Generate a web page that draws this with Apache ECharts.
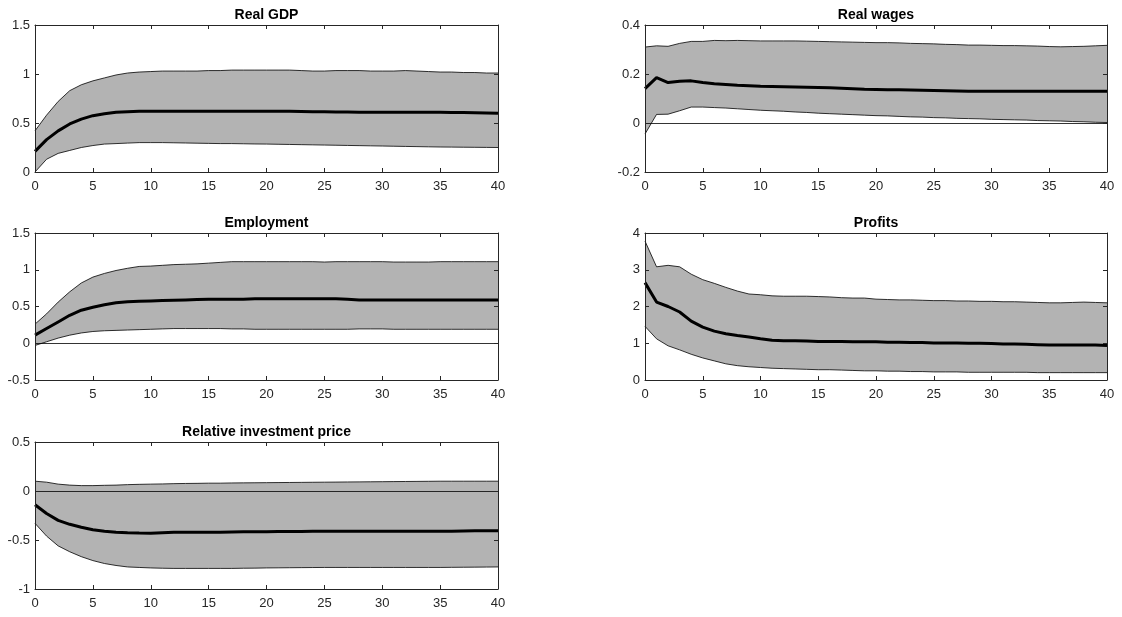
<!DOCTYPE html>
<html>
<head>
<meta charset="utf-8">
<script src="https://cdn.jsdelivr.net/npm/echarts@6/dist/echarts.min.js"></script>
<style>
html,body{margin:0;padding:0;background:#fff;}
#chart{width:1122px;height:617px;}
</style>
</head>
<body>
<div id="chart"></div>
<script>
// ---------- data ----------
const horizon = [0,1,2,3,4,5,6,7,8,9,10,11,12,13,14,15,16,17,18,19,20,21,22,23,24,25,26,27,28,29,30,31,32,33,34,35,36,37,38,39,40];
const xTicks = [0,5,10,15,20,25,30,35,40];
const panelTitles = ["Real GDP","Real wages","Employment","Profits","Relative investment price"];

const gdpUpper = [0.42,0.58,0.72,0.83,0.89,0.93,0.96,0.99,1.01,1.02,1.025,1.03,1.03,1.03,1.03,1.035,1.035,1.04,1.04,1.04,1.04,1.04,1.04,1.035,1.03,1.03,1.035,1.035,1.035,1.03,1.03,1.03,1.035,1.03,1.025,1.02,1.02,1.015,1.015,1.01,1.01];
const gdpMid   = [0.21,0.33,0.42,0.49,0.54,0.575,0.595,0.61,0.615,0.62,0.62,0.62,0.62,0.62,0.62,0.62,0.62,0.62,0.62,0.62,0.62,0.62,0.62,0.618,0.616,0.615,0.613,0.612,0.61,0.61,0.61,0.61,0.61,0.61,0.61,0.61,0.608,0.606,0.604,0.602,0.60];
const gdpLower = [0.00,0.13,0.19,0.22,0.25,0.27,0.285,0.29,0.295,0.30,0.30,0.30,0.298,0.296,0.294,0.292,0.29,0.29,0.288,0.286,0.285,0.283,0.281,0.279,0.277,0.275,0.273,0.271,0.269,0.267,0.265,0.263,0.261,0.259,0.257,0.255,0.254,0.253,0.252,0.251,0.25];

const wageUpper = [0.31,0.315,0.313,0.325,0.333,0.333,0.337,0.336,0.337,0.336,0.335,0.335,0.335,0.335,0.334,0.333,0.332,0.331,0.330,0.329,0.328,0.328,0.327,0.325,0.324,0.323,0.321,0.320,0.318,0.318,0.317,0.316,0.316,0.315,0.314,0.312,0.311,0.312,0.313,0.315,0.317];
const wageMid   = [0.14,0.185,0.165,0.17,0.172,0.165,0.16,0.157,0.154,0.152,0.15,0.149,0.148,0.147,0.146,0.145,0.144,0.142,0.140,0.138,0.137,0.136,0.136,0.135,0.134,0.133,0.132,0.131,0.130,0.130,0.130,0.130,0.130,0.130,0.130,0.130,0.130,0.130,0.130,0.130,0.130];
const wageLower = [-0.045,0.035,0.036,0.05,0.065,0.065,0.063,0.061,0.058,0.055,0.052,0.050,0.048,0.045,0.043,0.040,0.038,0.036,0.034,0.032,0.030,0.029,0.027,0.025,0.024,0.022,0.021,0.019,0.018,0.017,0.015,0.014,0.013,0.012,0.010,0.009,0.008,0.006,0.005,0.003,0.002];

const empUpper = [0.26,0.40,0.56,0.70,0.82,0.90,0.95,0.99,1.02,1.045,1.05,1.06,1.07,1.075,1.08,1.09,1.10,1.11,1.11,1.11,1.11,1.11,1.11,1.11,1.11,1.105,1.11,1.11,1.11,1.11,1.11,1.105,1.105,1.105,1.105,1.11,1.11,1.11,1.11,1.11,1.11];
const empMid   = [0.11,0.20,0.29,0.38,0.45,0.49,0.525,0.55,0.565,0.57,0.575,0.58,0.585,0.59,0.595,0.60,0.60,0.60,0.60,0.605,0.605,0.605,0.605,0.605,0.605,0.605,0.605,0.60,0.59,0.59,0.59,0.59,0.59,0.59,0.59,0.59,0.59,0.59,0.59,0.59,0.59];
const empLower = [-0.03,0.02,0.07,0.11,0.14,0.16,0.17,0.175,0.18,0.185,0.19,0.195,0.20,0.20,0.20,0.20,0.20,0.195,0.195,0.19,0.19,0.19,0.19,0.19,0.19,0.19,0.19,0.19,0.195,0.195,0.195,0.19,0.19,0.19,0.19,0.19,0.19,0.19,0.19,0.19,0.19];

const profUpper = [3.78,3.08,3.12,3.08,2.88,2.73,2.63,2.52,2.42,2.34,2.32,2.29,2.28,2.28,2.28,2.27,2.26,2.24,2.23,2.23,2.20,2.19,2.18,2.18,2.17,2.16,2.16,2.15,2.15,2.14,2.14,2.13,2.13,2.12,2.11,2.10,2.10,2.11,2.12,2.11,2.10];
const profMid   = [2.65,2.12,2.00,1.85,1.60,1.44,1.33,1.26,1.21,1.17,1.12,1.08,1.07,1.07,1.06,1.05,1.05,1.05,1.04,1.04,1.04,1.03,1.03,1.02,1.02,1.01,1.01,1.01,1.00,1.00,0.99,0.98,0.98,0.97,0.96,0.95,0.95,0.95,0.95,0.95,0.94];
const profLower = [1.46,1.12,0.93,0.82,0.70,0.60,0.52,0.44,0.39,0.36,0.34,0.32,0.31,0.30,0.29,0.28,0.28,0.27,0.26,0.25,0.25,0.24,0.24,0.23,0.23,0.22,0.22,0.22,0.21,0.21,0.21,0.21,0.21,0.21,0.20,0.20,0.20,0.20,0.20,0.20,0.20];

const ripUpper = [0.10,0.09,0.07,0.06,0.055,0.055,0.058,0.06,0.065,0.068,0.07,0.072,0.075,0.077,0.078,0.08,0.08,0.082,0.083,0.084,0.085,0.086,0.087,0.088,0.089,0.09,0.091,0.092,0.093,0.094,0.095,0.096,0.097,0.098,0.099,0.10,0.10,0.10,0.10,0.10,0.10];
const ripMid   = [-0.14,-0.23,-0.30,-0.34,-0.37,-0.395,-0.41,-0.42,-0.425,-0.428,-0.43,-0.425,-0.42,-0.42,-0.42,-0.42,-0.42,-0.418,-0.417,-0.416,-0.415,-0.414,-0.413,-0.412,-0.411,-0.41,-0.41,-0.41,-0.41,-0.41,-0.41,-0.41,-0.41,-0.41,-0.41,-0.41,-0.41,-0.408,-0.406,-0.405,-0.405];
const ripLower = [-0.33,-0.46,-0.56,-0.62,-0.67,-0.71,-0.74,-0.76,-0.775,-0.78,-0.785,-0.788,-0.79,-0.79,-0.79,-0.79,-0.79,-0.79,-0.788,-0.787,-0.785,-0.784,-0.783,-0.782,-0.781,-0.78,-0.78,-0.78,-0.78,-0.78,-0.78,-0.78,-0.78,-0.78,-0.78,-0.78,-0.779,-0.778,-0.777,-0.776,-0.775];

// y-axis ranges: [min, max, interval]
const yMins = [0, -0.2, -0.5, 0, -1];
const yMaxs = [1.5, 0.4, 1.5, 4, 0.5];
const yIntervals = [0.5, 0.2, 0.5, 1, 0.5];

const uppers = [gdpUpper, wageUpper, empUpper, profUpper, ripUpper];
const mids = [gdpMid, wageMid, empMid, profMid, ripMid];
const lowers = [gdpLower, wageLower, empLower, profLower, ripLower];

// ---------- layout ----------
const colLeft = [35, 645];
const colWidth = [463, 462];
const rowTop = [25, 233, 442];
const plotH = 147;
const FONT = '"Liberation Sans", Arial, Helvetica, sans-serif';
const AX = '#262626';

const chart = echarts.init(document.getElementById('chart'), null, {renderer: 'canvas'});

const grids = [], xAxes = [], yAxes = [], series = [], graphics = [];

panelTitles.forEach((title, i) => {
  const row = Math.floor(i / 2), col = i % 2;
  grids.push({left: colLeft[col], top: rowTop[row], width: colWidth[col], height: plotH, containLabel: false});
  const g = i;
  const commonX = {
    type: 'value', gridIndex: g, min: 0, max: 40, interval: 5, z: 10,
    axisLine: {show: true, onZero: false, lineStyle: {color: AX, width: 1}},
    axisTick: {show: true, inside: true, length: 4, lineStyle: {color: AX, width: 1}},
    splitLine: {show: false}
  };
  xAxes.push(Object.assign({}, commonX, {
    position: 'bottom',
    axisLabel: {show: true, margin: 8, color: AX, fontSize: 13, fontFamily: FONT,
      formatter: v => (xTicks.indexOf(v) >= 0 ? String(v) : '')}
  }));
  xAxes.push(Object.assign({}, commonX, {position: 'top', axisLabel: {show: false}}));
  const commonY = {
    type: 'value', gridIndex: g, min: yMins[i], max: yMaxs[i], interval: yIntervals[i], z: 10,
    axisLine: {show: true, onZero: false, lineStyle: {color: AX, width: 1}},
    axisTick: {show: true, inside: true, length: 4, lineStyle: {color: AX, width: 1}},
    splitLine: {show: false}
  };
  yAxes.push(Object.assign({}, commonY, {
    position: 'left',
    axisLabel: {show: true, margin: 5, color: AX, fontSize: 13, fontFamily: FONT,
      formatter: v => String(parseFloat(v.toFixed(2)))}
  }));
  yAxes.push(Object.assign({}, commonY, {position: 'right', axisLabel: {show: false}}));

  const xi = 2 * i, yi = 2 * i;
  const up = uppers[i], lo = lowers[i], md = mids[i];

  // shaded band
  series.push({
    type: 'custom', xAxisIndex: xi, yAxisIndex: yi, z: 1, silent: true,
    data: horizon.map((h, k) => [h, lo[k], up[k]]),
    encode: {x: 0, y: [1, 2]},
    renderItem: (params, api) => {
      if (params.dataIndex !== 0) return null;
      const pts = [];
      for (let k = 0; k < horizon.length; k++) pts.push(api.coord([horizon[k], up[k]]));
      for (let k = horizon.length - 1; k >= 0; k--) pts.push(api.coord([horizon[k], lo[k]]));
      return {type: 'polygon', shape: {points: pts}, style: {fill: '#b3b3b3', stroke: null}};
    }
  });
  // band edges
  [up, lo].forEach(arr => {
    series.push({
      type: 'line', xAxisIndex: xi, yAxisIndex: yi, z: 3, silent: true,
      data: horizon.map((h, k) => [h, arr[k]]),
      symbol: 'none', lineStyle: {color: '#000', width: 0.8}
    });
  });
  // zero line
  series.push({
    type: 'line', xAxisIndex: xi, yAxisIndex: yi, z: 4, silent: true,
    data: [], symbol: 'none',
    markLine: {silent: true, symbol: 'none', label: {show: false},
      lineStyle: {color: '#000', width: 0.8, type: 'solid'},
      data: [{yAxis: 0}], animation: false}
  });
  // median
  series.push({
    type: 'line', xAxisIndex: xi, yAxisIndex: yi, z: 5, silent: true,
    data: horizon.map((h, k) => [h, md[k]]),
    symbol: 'none', lineStyle: {color: '#000', width: 3}
  });

  graphics.push({
    type: 'text',
    x: colLeft[col] + colWidth[col] / 2,
    y: rowTop[row] - 3,
    style: {text: title, fill: '#000', font: 'bold 14px ' + FONT, align: 'center', verticalAlign: 'bottom',
      textAlign: 'center', textVerticalAlign: 'bottom'}
  });
});

chart.setOption({
  animation: false,
  backgroundColor: '#ffffff',
  grid: grids,
  xAxis: xAxes,
  yAxis: yAxes,
  series: series,
  graphic: graphics
});
</script>
</body>
</html>
